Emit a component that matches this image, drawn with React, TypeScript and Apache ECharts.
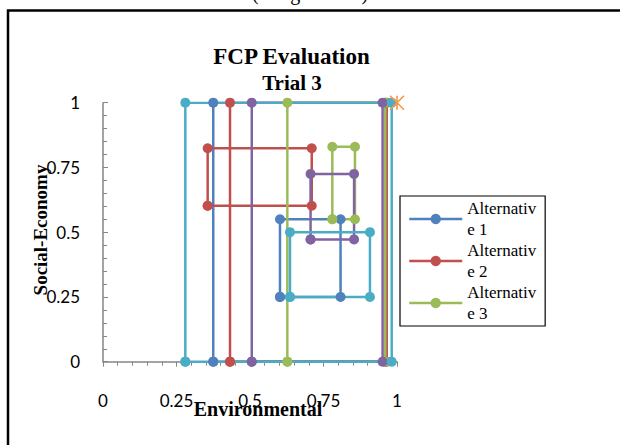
import React, { useEffect, useRef } from "react";
import * as echarts from "echarts";

const seriesNames = ["Alternative 1", "Alternative 2", "Alternative 3", "Alternative 4", "Alternative 5", "Alternative 6"];
const seriesColors = ["#4F81BD", "#C0504D", "#9BBB59", "#8064A2", "#4BACC6", "#F79646"];

// Each alternative: outer rectangle corners, a break, then inner rectangle corners
const alt1: (number | string)[][] = [
  [0.375, 0], [0.375, 1], [0.96, 1], [0.96, 0], [0.375, 0], ["-", "-"],
  [0.602, 0.25], [0.602, 0.55], [0.808, 0.55], [0.808, 0.25], [0.602, 0.25],
];
const alt2: (number | string)[][] = [
  [0.432, 0], [0.432, 1], [0.965, 1], [0.965, 0], [0.432, 0], ["-", "-"],
  [0.356, 0.602], [0.356, 0.824], [0.71, 0.824], [0.71, 0.602], [0.356, 0.602],
];
const alt3: (number | string)[][] = [
  [0.627, 0], [0.627, 1], [0.96, 1], [0.96, 0], [0.627, 0], ["-", "-"],
  [0.78, 0.55], [0.78, 0.83], [0.857, 0.83], [0.857, 0.55], [0.78, 0.55],
];
const alt4: (number | string)[][] = [
  [0.506, 0], [0.506, 1], [0.951, 1], [0.951, 0], [0.506, 0], ["-", "-"],
  [0.706, 0.472], [0.706, 0.725], [0.854, 0.725], [0.854, 0.472], [0.706, 0.472],
];
const alt5: (number | string)[][] = [
  [0.28, 0], [0.28, 1], [0.982, 1], [0.982, 0], [0.28, 0], ["-", "-"],
  [0.636, 0.25], [0.636, 0.5], [0.908, 0.5], [0.908, 0.25], [0.636, 0.25],
];
const alt6: number[][] = [[1, 1]];

const legendShown = ["Alternative 1", "Alternative 2", "Alternative 3"];
const xTicks = [0, 0.25, 0.5, 0.75, 1];

const SERIF = "'Liberation Serif', 'Times New Roman', serif";
const SANS = "Lato, 'Open Sans', sans-serif";

export default function App() {
  const ref = useRef<HTMLDivElement>(null);
  useEffect(() => {
    document.body.style.margin = "0";
    if (!ref.current) return;
    const chart = echarts.init(ref.current, undefined, { renderer: "svg" });
    const datasets = [alt1, alt2, alt3, alt4, alt5];
    const series: any[] = datasets.map((d, i) => ({
      name: seriesNames[i],
      type: "line",
      data: d,
      symbol: "circle",
      symbolSize: 10,
      showAllSymbol: true,
      connectNulls: false,
      lineStyle: { width: 2.5, color: seriesColors[i] },
      itemStyle: { color: seriesColors[i] },
      emphasis: { disabled: true },
    }));
    series.push({
      name: seriesNames[5],
      type: "line",
      data: alt6,
      symbol: "path://M0,0L10,10M10,0L0,10M5,0L5,10",
      symbolSize: 14,
      lineStyle: { width: 0 },
      itemStyle: { color: "rgba(0,0,0,0)", borderColor: seriesColors[5], borderWidth: 1.6 },
      emphasis: { disabled: true },
    });
    chart.setOption({
      animation: false,
      grid: { left: 103, top: 102.7, width: 294, height: 259, containLabel: false },
      xAxis: {
        type: "value",
        min: xTicks[0],
        max: xTicks[xTicks.length - 1],
        interval: 0.25,
        axisLine: { show: true, lineStyle: { color: "#868686", width: 1.5 } },
        axisTick: { show: true, length: 5, lineStyle: { color: "#868686" } },
        minorTick: { show: true, splitNumber: 5, length: 4, lineStyle: { color: "#868686" } },
        splitLine: { show: false },
        axisLabel: { margin: 30, fontFamily: SANS, fontSize: 17, color: "#000" },
      },
      yAxis: {
        type: "value",
        min: 0,
        max: 1,
        interval: 0.25,
        axisLine: { show: true, lineStyle: { color: "#868686", width: 1.5 } },
        axisTick: { show: true, inside: true, length: 5, lineStyle: { color: "#868686" } },
        minorTick: { show: true, splitNumber: 5, length: 4, lineStyle: { color: "#868686" } },
        splitLine: { show: false },
        axisLabel: { margin: 23, fontFamily: SANS, fontSize: 17, color: "#000" },
      },
      legend: {
        data: legendShown,
        orient: "vertical",
        left: 400,
        top: 196,
        padding: [2, 9, 2, 8],
        itemGap: 0,
        itemWidth: 53,
        itemHeight: 13,
        backgroundColor: "#fff",
        borderColor: "#000",
        borderWidth: 1.2,
        selectedMode: false,
        lineStyle: { width: 2.5 },
        formatter: (n: string) => n.slice(0, 10) + "\n" + n.slice(10).trim(),
        textStyle: { fontFamily: SERIF, fontSize: 17, lineHeight: 21, color: "#000" },
      },
      graphic: [
        { type: "rect", shape: { x: 8, y: 10.5, width: 700, height: 500 }, style: { fill: "none", stroke: "#000", lineWidth: 2.5 }, silent: true },
        { type: "text", x: 310, y: 3, style: { text: "(Weight Set 1)", fontFamily: SERIF, fontSize: 20, fill: "#000", align: "center", verticalAlign: "bottom" } },
        { type: "text", x: 291.5, y: 56, style: { text: "FCP Evaluation", fontFamily: SERIF, fontWeight: "bold", fontSize: 23, fill: "#000", align: "center", verticalAlign: "middle" } },
        { type: "text", x: 292, y: 83, style: { text: "Trial 3", fontFamily: SERIF, fontWeight: "bold", fontSize: 21, fill: "#000", align: "center", verticalAlign: "middle" } },
        { type: "text", x: 258, y: 409, style: { text: "Environmental", fontFamily: SERIF, fontWeight: "bold", fontSize: 20, fill: "#000", align: "center", verticalAlign: "middle" } },
        { type: "text", x: 40, y: 230, rotation: Math.PI / 2, style: { text: "Social-Economy", fontFamily: SERIF, fontWeight: "bold", fontSize: 19, fill: "#000", align: "center", verticalAlign: "middle" } },
      ],
      series,
    });
    return () => chart.dispose();
  }, []);
  return <div ref={ref} style={{ width: 620, height: 445 }} />;
}
